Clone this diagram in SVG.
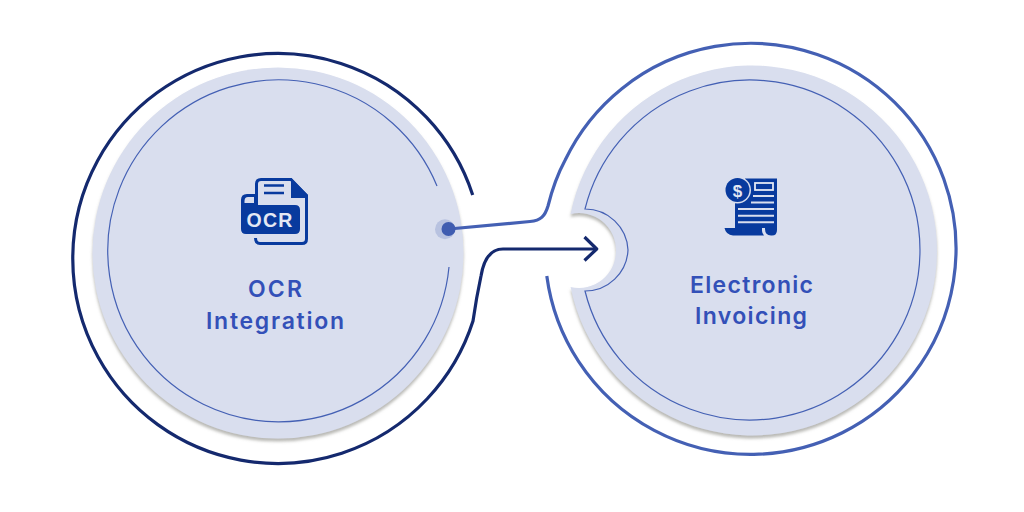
<svg xmlns="http://www.w3.org/2000/svg" width="1024" height="512" viewBox="0 0 1024 512">
<style>
.disc{fill:#d9deee}
.thin{fill:none;stroke:#4460b4;stroke-width:1.2}
.navy{fill:none;stroke:#14296e;stroke-width:3.2;stroke-linecap:butt;stroke-linejoin:round}
.blue{fill:none;stroke:#4460b4;stroke-width:3.2;stroke-linecap:butt;stroke-linejoin:round}
.label{font-family:"Inter","Noto Sans",sans-serif;font-size:23px;font-weight:600;fill:#3350b8;text-anchor:middle}
.ink{fill:#083a9e}
.inkline{fill:none;stroke:#083a9e;stroke-width:3}
.paper{fill:#d9deee}
.pline{fill:none;stroke:#d9deee;stroke-width:2}
</style>
<defs>
<filter id="sh" x="-10%" y="-10%" width="120%" height="120%">
<feDropShadow dx="0" dy="3" stdDeviation="1.8" flood-color="#8a8a84" flood-opacity="0.6"/>
</filter>
</defs>
<rect width="1024" height="512" fill="#ffffff"/>
<g id="node-ocr">
<circle class="disc" cx="278" cy="253" r="185.500" filter="url(#sh)"/>
<path class="thin" d="M437 186A171 171 0 1 0 449 267"/>
<g id="icon-ocr">
<path class="inkline" d="M256.500 206V184Q256.500 179.500 261 179.500H291L306.500 195.500V239Q306.500 243.500 302 243.500H260Q255.500 243.500 255.500 238"/>
<path class="ink" d="M291 178L308 195V198H291Z"/>
<path class="ink" d="M241 200Q241 194 247 194H257V205H295Q300 205 300 210V229Q300 234 295 234H246Q241 234 241 229Z"/>
<path class="paper" d="M244.500 201Q244.500 197 248 197H254V203H244.500Z"/>
<path d="M264 185.500H284M264 193H284" fill="none" stroke="#083a9e" stroke-width="2.600"/>
<text x="270" y="227" font-family="'Liberation Sans',sans-serif" font-size="19.500" font-weight="700" letter-spacing="1.200" fill="#e4e8f4" text-anchor="middle">OCR</text>
</g>
<text class="label" x="275" y="297.300" textLength="54" lengthAdjust="spacing">OCR</text>
<text class="label" x="275" y="329" textLength="138" lengthAdjust="spacing">Integration</text>
</g>
<g id="node-invoicing">
<path class="disc" filter="url(#sh)" d="M570.600 214A185 185 0 1 1 570.600 287A37 37 0 0 0 616 250.500A37 37 0 0 0 570.600 214Z"/>
<path class="thin" d="M585 209A170 170 0 1 1 585 291A43 43 0 0 0 628 250A43 43 0 0 0 585 209Z"/>
<g id="icon-invoice">
<path class="ink" d="M745 178.500H777V230Q777 236 771 235.500Q765 235 765 229V228H735V200H745Z"/>
<path class="ink" d="M724.500 228H762V231Q762 233 764 235.500H733Q726 235 724.500 228Z"/>
<circle cx="737.500" cy="190" r="13.500" fill="#d9deee"/>
<circle class="ink" cx="737.500" cy="190" r="12"/>
<text x="737.500" y="196.500" font-family="'Liberation Sans',sans-serif" font-size="17" font-weight="700" fill="#e4e8f4" text-anchor="middle">$</text>
<rect x="755" y="183" width="18" height="7" fill="none" stroke="#e4e8f4" stroke-width="1.800"/>
<path class="pline" d="M753 196H774M751 202.500H774M738 209H774M738 215.700H774M738 222.300H774"/>
</g>
<text class="label" x="751.500" y="293" textLength="123" lengthAdjust="spacing">Electronic</text>
<text class="label" x="751" y="324" textLength="112" lengthAdjust="spacing">Invoicing</text>
</g>
<g id="connectors">
<path class="navy" d="M472.700 195A205 205 0 1 0 473 321C476 300 478 290 481 276C484 258 491 249 503 249H596"/>
<path class="navy" d="M584.500 237L596.700 249L584.500 260.500"/>
<path class="blue" d="M449 229L530 221.500C541 220.500 545 216 548 206C552 190 556 177 565.200 160A205.500 205.500 0 1 1 546.800 276"/>
<circle cx="445" cy="229.300" r="10" fill="#b8c2e0"/>
<circle cx="448.500" cy="229" r="7" fill="#3f5cb0"/>
</g>
</svg>
